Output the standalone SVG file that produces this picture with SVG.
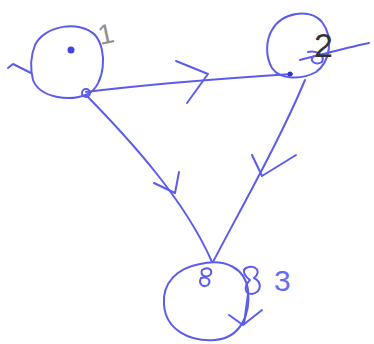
<svg xmlns="http://www.w3.org/2000/svg" width="374" height="344" viewBox="0 0 374 344">
<style>
.ink{fill:none;stroke:#5c5cec;stroke-width:2;stroke-linecap:round;stroke-linejoin:round}
.lbl{font-family:"Liberation Sans",sans-serif}
</style>
<rect width="374" height="344" fill="#ffffff"/>
<g id="connectors">
<path class="ink" d="M86,92 C150,84 230,78 292,74"/>
<path class="ink" d="M176,61 L208,74 L187,103"/>
<path class="ink" d="M87,96 C130,140 185,200 212,262"/>
<path class="ink" d="M154,183 L175,193 L179,172"/>
<path class="ink" d="M305,80 C280,140 240,210 213,262"/>
<path class="ink" d="M252,155 L262,176 L296,155"/>
</g>
<g id="node1">
<path class="ink" d="M35,45 C45,25 80,20 95,35 C108,50 105,85 88,94 C70,102 40,98 33,80 C30,68 31,55 35,45"/>
<path class="ink" d="M8,68 L13,64 L31,73"/>
<circle cx="86" cy="93" r="4" class="ink" stroke-width="1.5"/>
<circle cx="71" cy="50" r="3.5" fill="#4444dd"/>
<text class="lbl" x="98" y="44" font-size="28" fill="#8f8f8f" transform="rotate(-12 104 34)">1</text>
</g>
<g id="node2">
<path class="ink" d="M272,30 C282,12 310,8 322,22 C334,38 330,62 316,72 C302,80 280,80 272,68 C265,56 266,40 272,30"/>
<path class="ink" d="M300,60 C320,55 345,48 369,43"/>
<path class="ink" d="M308,52 C318,50 325,56 322,62 C315,66 308,60 314,56"/>
<circle cx="290" cy="74" r="2.5" fill="#3333cc"/>
<text class="lbl" x="314" y="57" font-size="34" fill="#333333">2</text>
</g>
<g id="node3">
<path class="ink" d="M200,264 C225,258 245,268 248,290 C251,315 240,338 215,340 C190,342 166,330 164,305 C162,282 178,268 200,264"/>
<path class="ink" d="M202,270 C208,266 214,270 210,275 C206,278 200,276 202,270 M201,278 C207,276 212,280 208,285 C203,288 198,284 201,278"/>
<path class="ink" d="M246,268 C256,264 262,272 254,278 C262,282 262,292 252,294 C244,294 244,286 250,280 C244,276 242,270 246,268"/>
<path class="ink" d="M248,294 L244,324"/>
<path class="ink" d="M229,315 L243,325 L262,310"/>
<text class="lbl" x="274" y="291" font-size="30" fill="#6a6aee">3</text>
</g>
</svg>
